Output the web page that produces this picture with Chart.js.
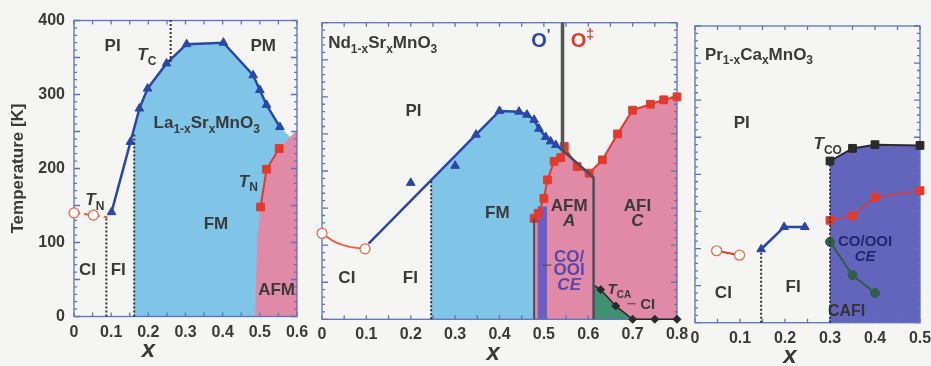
<!DOCTYPE html>
<html>
<head>
<meta charset="utf-8">
<script src="https://cdn.jsdelivr.net/npm/chart.js@4.4.1/dist/chart.umd.min.js"></script>
<style>
  html, body { margin: 0; padding: 0; background: #f5f5f3; }
  #wrap { position: relative; width: 931px; height: 366px; overflow: hidden; }
  canvas { position: absolute; top: 0; }
</style>
</head>
<body>
<div id="wrap">
  <canvas id="lsmo"></canvas>
  <canvas id="nsmo"></canvas>
  <canvas id="pcmo"></canvas>
</div>
<script>
// ---- La(1-x)Sr(x)MnO3 ----
const lsmoXTicks = [0, 0.1, 0.2, 0.3, 0.4, 0.5, 0.6];
const tempTicks = [0, 100, 200, 300, 400];
const lsmoTcX = [0.101, 0.152, 0.176, 0.198, 0.249, 0.303, 0.402, 0.482, 0.5, 0.518, 0.554];
const lsmoTcT = [141, 236, 281, 308, 342, 368, 370, 326, 306, 286, 256];
const lsmoTnX = [0.502, 0.518, 0.552];
const lsmoTnT = [148, 199, 227];
const lsmoCantX = [0, 0.052, 0.09];
const lsmoCantT = [140, 137, 134];
const lsmoSplitX = [0.087, 0.162, 0.26];
const lsmoSplitLo = [0, 0, 344];
const lsmoSplitHi = [134, 248, 400];

// ---- Nd(1-x)Sr(x)MnO3 ----
const nsmoXTicks = [0, 0.1, 0.2, 0.3, 0.4, 0.5, 0.6, 0.7, 0.8];
const nsmoTcX = [0.105, 0.347, 0.4, 0.444, 0.462, 0.478, 0.489, 0.504, 0.515, 0.527, 0.542];
const nsmoTcT = [102, 249, 281, 280, 276, 269, 257, 246, 240, 235, 228];
const nsmoTcExtraX = [0.2, 0.3];
const nsmoTcExtraT = [184, 207];
const nsmoTnX = [0.478, 0.487, 0.5, 0.508, 0.523, 0.538, 0.546, 0.575, 0.602, 0.632, 0.666, 0.7, 0.74, 0.77, 0.8];
const nsmoTnT = [136, 143, 163, 188, 213, 218, 233, 206, 197, 215, 250, 282, 290, 296, 300];
const nsmoCantX = [0, 0.03, 0.06, 0.097];
const nsmoCantT = [116, 104, 98, 95];
const nsmoTcaX = [0.612, 0.628, 0.662, 0.7, 0.75, 0.8];
const nsmoTcaT = [46, 40, 18, 0, 0, 0];
const nsmoWallX = [0.542, 0.612, 0.612];
const nsmoWallT = [228, 191, 0];
const nsmoStructX = 0.542;
const nsmoFmEdgeX = 0.246;
const nsmoStrip = [[0.486, 0], [0.486, 152], [0.507, 152], [0.507, 0]];

// ---- Pr(1-x)Ca(x)MnO3 ----
const pcmoXTicks = [0, 0.1, 0.2, 0.3, 0.4, 0.5];
const pcmoCantX = [0.048, 0.099];
const pcmoCantT = [97, 91];
const pcmoTcX = [0.147, 0.198, 0.244];
const pcmoTcT = [99, 129, 129];
const pcmoTcoX = [0.3, 0.35, 0.4, 0.5];
const pcmoTcoT = [218, 235, 240, 239];
const pcmoTnX = [0.3, 0.35, 0.4, 0.5];
const pcmoTnT = [138, 144, 169, 178];
const pcmoTcaX = [0.3, 0.35, 0.4];
const pcmoTcaT = [109, 64, 40];
const pcmoSplitX = [0.147, 0.3];
const pcmoSplitHi = [99, 218];

const BLUE = '#2b47a6', RED = '#e23b2b', ORANGE = '#e8643c', DARK = '#2a2a2a';
const WALL = '#4d4d5a', GREEN = '#2f5f49', FRAME = '#5b74bf', TEXT = '#3a3a3a';
const FM_FILL = '#80c4e8', AF_FILL = '#e08aa8', CI_FILL = '#3f9172';
const STRIP_FILL = '#6c5dc2', CE_FILL = '#6365bd';
const FONT = '"Liberation Sans", Arial, sans-serif';

const pts = (xs, ys) => xs.map((x, i) => ({ x, y: ys[i] }));
const pairs = (xs, ys) => xs.map((x, i) => [x, ys[i]]);
const line = (xs, ys, o) => Object.assign({
  data: pts(xs, ys), showLine: true, clip: false, pointRadius: 0,
  borderWidth: 2, pointBorderWidth: 1
}, o);
const marks = (color, style, r) => ({
  borderColor: color, backgroundColor: color, pointBackgroundColor: color,
  pointBorderColor: color, pointStyle: style, pointRadius: r
});
const openRing = { pointStyle: 'circle', pointBackgroundColor: '#fbfbfb', pointBorderColor: ORANGE, pointBorderWidth: 1.2 };
const dotted = (x, lo, hi) => line([x, x], [lo, hi], { borderColor: '#333', borderWidth: 2, borderDash: [2, 2] });

function drawRich(ctx, px, py, parts, size, color, align, weight) {
  const fontFor = s => {
    const it = s.includes('i') ? 'italic ' : '';
    const sz = (s.includes('s') || s.includes('u')) ? Math.round(size * 0.68) : size;
    return it + weight + ' ' + sz + 'px ' + FONT;
  };
  let w = 0;
  parts.forEach(([t, s]) => { ctx.font = fontFor(s); w += ctx.measureText(t).width; });
  let cx = align === 'left' ? px : align === 'right' ? px - w : px - w / 2;
  ctx.fillStyle = color;
  ctx.textAlign = 'left';
  ctx.textBaseline = 'middle';
  parts.forEach(([t, s]) => {
    ctx.font = fontFor(s);
    const dy = s.includes('s') ? size * 0.35 : s.includes('u') ? -size * 0.35 : 0;
    ctx.fillText(t, cx, py + dy);
    cx += ctx.measureText(t).width;
  });
}

// fills phase regions, draws the boxed frame with inward ticks, and the text labels
const phasePlugin = {
  id: 'phase',
  beforeDatasetsDraw(chart, _a, opts) {
    const { ctx, chartArea: a } = chart;
    const sx = chart.scales.x, sy = chart.scales.y;
    ctx.save();
    (opts.regions || []).forEach(r => {
      ctx.beginPath();
      r.pts.forEach(([vx, vy], i) => {
        const px = sx.getPixelForValue(vx), py = sy.getPixelForValue(vy);
        if (i) ctx.lineTo(px, py); else ctx.moveTo(px, py);
      });
      ctx.closePath();
      ctx.fillStyle = r.color;
      ctx.fill();
    });
    ctx.strokeStyle = FRAME;
    ctx.lineWidth = 1.3;
    ctx.strokeRect(a.left, a.top, a.width, a.height);
    ctx.beginPath();
    for (let i = 0; i * 0.05 <= sx.max + 1e-9; i++) {
      const px = sx.getPixelForValue(i * 0.05);
      ctx.moveTo(px, a.bottom); ctx.lineTo(px, a.bottom - 4);
      ctx.moveTo(px, a.top); ctx.lineTo(px, a.top + 4);
    }
    for (let v = sy.min; v <= sy.max; v += 10) {
      const py = sy.getPixelForValue(v);
      const len = v % 50 === 0 ? 6 : 3;
      ctx.moveTo(a.left, py); ctx.lineTo(a.left + len, py);
      ctx.moveTo(a.right, py); ctx.lineTo(a.right - len, py);
    }
    ctx.stroke();
    ctx.restore();
  },
  afterDatasetsDraw(chart, _a, opts) {
    const { ctx, chartArea: a } = chart;
    const sx = chart.scales.x, sy = chart.scales.y;
    ctx.save();
    (opts.leaders || []).forEach(l => {
      ctx.beginPath();
      ctx.moveTo(sx.getPixelForValue(l[0][0]), sy.getPixelForValue(l[0][1]));
      ctx.lineTo(sx.getPixelForValue(l[1][0]), sy.getPixelForValue(l[1][1]));
      ctx.strokeStyle = '#555';
      ctx.lineWidth = 1.2;
      ctx.stroke();
    });
    (opts.labels || []).forEach(l => {
      drawRich(ctx, sx.getPixelForValue(l.x), sy.getPixelForValue(l.y), l.parts,
        l.size || 17, l.color || TEXT, l.align || 'center', l.weight || 'bold');
    });
    drawRich(ctx, sx.getPixelForValue(opts.axisX), a.bottom + 34, [['x', 'i']], 24, TEXT, 'center', 'bold');
    ctx.restore();
  }
};

function panel(id, left, width, area, xTicks, xMax, datasets, plug, showY) {
  const cv = document.getElementById(id);
  cv.width = width; cv.height = 366;
  cv.style.left = left + 'px';
  const yw = showY ? area.left - left : 0;
  new Chart(cv, {
    type: 'scatter',
    data: { datasets },
    options: {
      responsive: false, animation: false, devicePixelRatio: 1,
      layout: { padding: { left: area.left - left - yw, right: left + width - area.right, top: area.top, bottom: 0 } },
      plugins: { legend: { display: false }, tooltip: { enabled: false }, phase: plug },
      scales: {
        x: {
          type: 'linear', min: 0, max: xMax,
          grid: { display: false, drawTicks: false }, border: { display: false },
          afterBuildTicks: s => { s.ticks = xTicks.map(v => ({ value: v })); },
          afterFit: s => { s.height = 366 - area.bottom; s.paddingLeft = 0; s.paddingRight = 0; },
          ticks: { padding: 6, color: TEXT, font: { family: FONT, size: 16, weight: 'bold' },
            callback: v => v === 0 ? '0' : v.toFixed(1) }
        },
        y: {
          type: 'linear', min: 0, max: 400, display: showY,
          grid: { display: false, drawTicks: false }, border: { display: false },
          afterBuildTicks: s => { s.ticks = tempTicks.map(v => ({ value: v })); },
          afterFit: s => { s.width = yw; s.paddingTop = 0; s.paddingBottom = 0; },
          ticks: { padding: 9, color: TEXT, font: { family: FONT, size: 16, weight: 'bold' }, callback: v => String(v) },
          title: { display: true, text: 'Temperature [K]', color: TEXT, padding: { top: 8, bottom: 0 },
            font: { family: FONT, size: 17, weight: 'bold' } }
        }
      }
    },
    plugins: [phasePlugin]
  });
}

const formula = (a, b) => [[a, ''], ['1-x', 's'], [b, ''], ['x', 's'], ['MnO', ''], ['3', 's']];

// La(1-x)Sr(x)MnO3 panel
const lsmoTcPts = pairs(lsmoTcX, lsmoTcT);
panel('lsmo', 0, 318, { left: 74, right: 297, top: 20.5, bottom: 316.5 }, lsmoXTicks, 0.6, [
  line(lsmoCantX, lsmoCantT, Object.assign({ borderColor: ORANGE, borderDash: [6, 4], pointRadius: [5, 5, 0] }, openRing)),
  ...lsmoSplitX.map((x, i) => dotted(x, lsmoSplitLo[i], lsmoSplitHi[i])),
  line(lsmoTcX, lsmoTcT, Object.assign(marks(BLUE, 'triangle', 5), { borderWidth: 2.5 })),
  line(lsmoTnX, lsmoTnT, marks(RED, 'rect', 5.5))
], {
  regions: [
    { color: FM_FILL, pts: [[0.162, 0], [0.162, 248], ...lsmoTcPts.filter(p => p[0] > 0.162), [0.585, 241], [0.585, 0]] },
    { color: AF_FILL, pts: [[0.488, 0], [0.49, 60], [0.494, 110], ...pairs(lsmoTnX, lsmoTnT), [0.58, 242], [0.6, 252], [0.6, 0]] }
  ],
  labels: [
    { x: 0.104, y: 365, parts: [['PI', '']] },
    { x: 0.509, y: 365, parts: [['PM', '']] },
    { x: 0.196, y: 353, parts: [['T', 'i'], ['C', 's']] },
    { x: 0.357, y: 261, parts: formula('La', 'Sr') },
    { x: 0.056, y: 157, parts: [['T', 'i'], ['N', 's']] },
    { x: 0.469, y: 182, parts: [['T', 'i'], ['N', 's']] },
    { x: 0.382, y: 125, parts: [['FM', '']] },
    { x: 0.036, y: 63, parts: [['CI', '']] },
    { x: 0.119, y: 63, parts: [['FI', '']] },
    { x: 0.545, y: 36, parts: [['AFM', '']] }
  ],
  axisX: 0.2
}, true);

// Nd(1-x)Sr(x)MnO3 panel
const nsmoTcPts = pairs(nsmoTcX, nsmoTcT);
const nsmoTnPts = pairs(nsmoTnX, nsmoTnT);
panel('nsmo', 305, 385, { left: 322, right: 677, top: 22.7, bottom: 319.3 }, nsmoXTicks, 0.8, [
  line(nsmoCantX, nsmoCantT, Object.assign({ borderColor: ORANGE, tension: 0.4, pointRadius: [5, 0, 0, 5] }, openRing)),
  dotted(nsmoFmEdgeX, 0, 187),
  line([0.478, 0.478], [0, 136], { borderColor: WALL, borderWidth: 2 }),
  line(nsmoWallX, nsmoWallT, { borderColor: WALL, borderWidth: 2.5 }),
  line([nsmoStructX, nsmoStructX], [228, 400], { borderColor: '#555', borderWidth: 3.5 }),
  line(nsmoTcaX, nsmoTcaT, Object.assign(marks(DARK, 'rectRot', [0, 4, 4, 4, 4, 4]), { borderWidth: 1.5 })),
  line(nsmoTcX, nsmoTcT, Object.assign(marks(BLUE, 'triangle', [0, 5, 5, 5, 5, 5, 5, 5, 5, 5, 0]), { borderWidth: 2.5 })),
  line(nsmoTcExtraX, nsmoTcExtraT, Object.assign(marks(BLUE, 'triangle', 5), { showLine: false })),
  line(nsmoTnX, nsmoTnT, marks(RED, 'rect', 5.5))
], {
  regions: [
    { color: FM_FILL, pts: [[nsmoFmEdgeX, 0], [nsmoFmEdgeX, 187], ...nsmoTcPts.filter(p => p[0] > 0.3),
      ...nsmoTnPts.filter(p => p[0] < 0.54).reverse(), [0.478, 0]] },
    { color: AF_FILL, pts: [[0.478, 0], ...nsmoTnPts, [0.8, 0]] },
    { color: STRIP_FILL, pts: nsmoStrip },
    { color: CI_FILL, pts: [[0.612, 0], ...pairs(nsmoTcaX, nsmoTcaT).slice(0, 4)] }
  ],
  leaders: [[[0.498, 73], [0.517, 73]], [[0.688, 21], [0.707, 21]]],
  labels: [
    { x: 0.014, y: 372, align: 'left', parts: formula('Nd', 'Sr') },
    { x: 0.206, y: 280, parts: [['PI', '']] },
    { x: 0.493, y: 374, size: 20, color: BLUE, parts: [['O', ''], ["'", 'u']] },
    { x: 0.587, y: 374, size: 20, color: RED, parts: [['O', ''], ['\u2021', 'u']] },
    { x: 0.395, y: 143, parts: [['FM', '']] },
    { x: 0.557, y: 152, parts: [['AFM', '']] },
    { x: 0.557, y: 132, parts: [['A', 'i']] },
    { x: 0.711, y: 152, parts: [['AFI', '']] },
    { x: 0.711, y: 132, parts: [['C', 'i']] },
    { x: 0.557, y: 84, color: '#5a48a8', parts: [['CO/', '']] },
    { x: 0.557, y: 66, color: '#5a48a8', parts: [['OOI', '']] },
    { x: 0.557, y: 46, color: '#5a48a8', parts: [['CE', 'i']] },
    { x: 0.67, y: 40, size: 15, parts: [['T', 'i'], ['CA', 's']] },
    { x: 0.734, y: 19, size: 15, parts: [['CI', '']] },
    { x: 0.056, y: 55, parts: [['CI', '']] },
    { x: 0.199, y: 55, parts: [['FI', '']] }
  ],
  axisX: 0.386
}, false);

// Pr(1-x)Ca(x)MnO3 panel
panel('pcmo', 680, 251, { left: 695, right: 920, top: 26, bottom: 322.7 }, pcmoXTicks, 0.5, [
  line(pcmoCantX, pcmoCantT, Object.assign({ borderColor: RED, pointRadius: 5 }, openRing)),
  ...pcmoSplitX.map((x, i) => dotted(x, 0, pcmoSplitHi[i])),
  line(pcmoTcX, pcmoTcT, Object.assign(marks(BLUE, 'triangle', 5), { borderWidth: 2.5 })),
  line(pcmoTcoX, pcmoTcoT, marks(DARK, 'rect', 5.5)),
  line(pcmoTnX, pcmoTnT, Object.assign(marks(RED, 'rect', 5.5), { borderWidth: 1.5 })),
  line(pcmoTcaX, pcmoTcaT, marks(GREEN, 'circle', 4.5))
], {
  regions: [
    { color: CE_FILL, pts: [[0.3, 0], ...pairs(pcmoTcoX, pcmoTcoT), [0.5, 0]] }
  ],
  labels: [
    { x: 0.022, y: 361, align: 'left', parts: formula('Pr', 'Ca') },
    { x: 0.104, y: 269, parts: [['PI', '']] },
    { x: 0.295, y: 240, parts: [['T', 'i'], ['CO', 's']] },
    { x: 0.378, y: 109, size: 15, color: '#25256e', parts: [['CO/OOI', '']] },
    { x: 0.378, y: 89, size: 15, color: '#25256e', parts: [['CE', 'i']] },
    { x: 0.063, y: 40, parts: [['CI', '']] },
    { x: 0.218, y: 48, parts: [['FI', '']] },
    { x: 0.337, y: 15, size: 16, color: '#333', parts: [['CAFI', '']] }
  ],
  axisX: 0.211
}, false);
</script>
</body>
</html>
